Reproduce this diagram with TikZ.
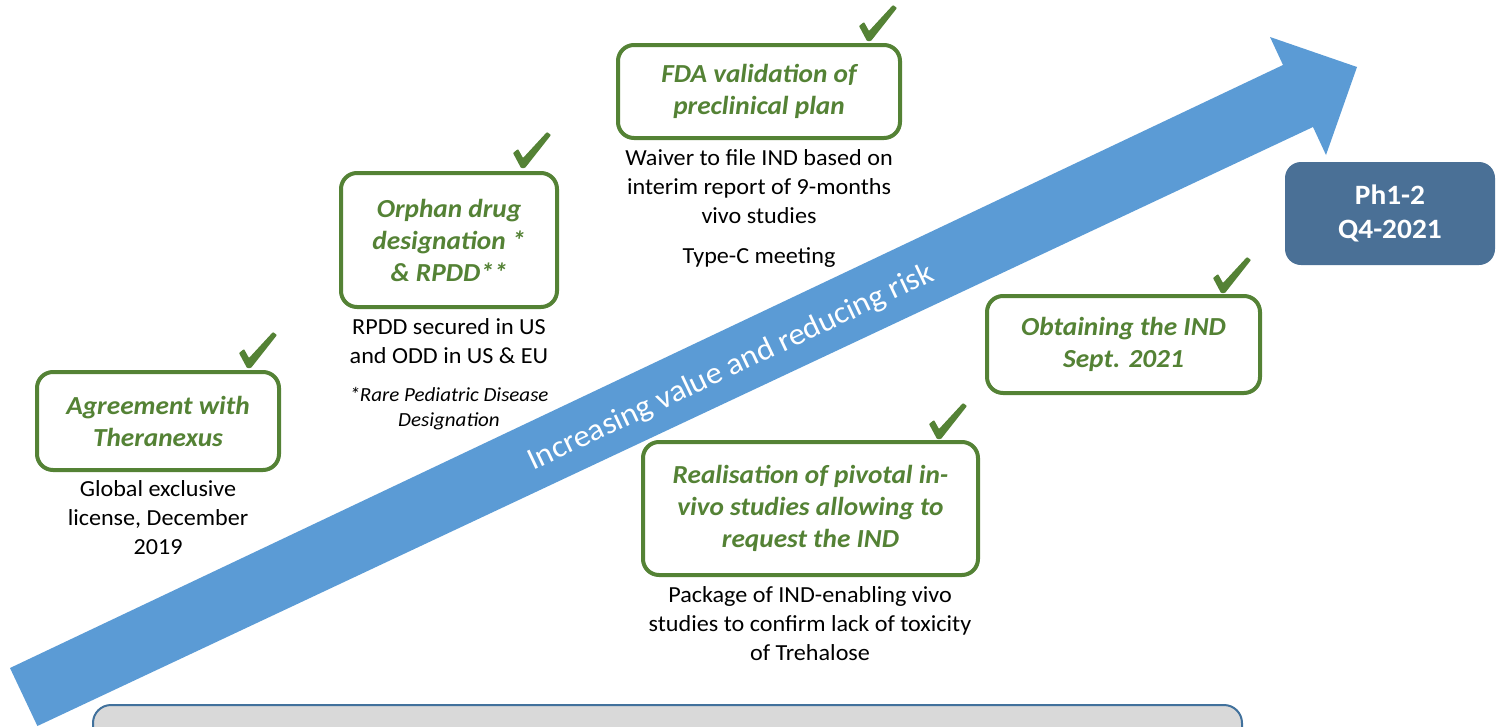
\documentclass[tikz,border=0pt]{standalone}
\usepackage{fontspec}
\setmainfont{Carlito}[FakeStretch=1.05]
\definecolor{grn}{HTML}{548235}
\definecolor{arrowblue}{HTML}{5B9BD5}
\definecolor{phblue}{HTML}{4A7096}
\definecolor{boxgray}{HTML}{D9D9D9}
\definecolor{boxedge}{HTML}{41719C}
\tikzset{
  milestone/.style={draw=grn, line width=4pt, rounded corners=16pt, fill=white,
    text=grn, align=center, inner sep=0pt,
    font=\fontsize{26}{32}\selectfont\bfseries\itshape},
  desc/.style={align=center, inner sep=0pt, text=black,
    font=\fontsize{23}{29}\selectfont},
  footnote/.style={align=center, inner sep=0pt, text=black,
    font=\fontsize{20}{25}\selectfont\itshape},
  tickmark/.style={fill=grn, rounded corners=0.8pt},
  phase/.style={fill=phblue, rounded corners=16pt, text=white, align=center,
    inner sep=0pt, font=\fontsize{28}{34}\selectfont\bfseries},
}
\newcommand{\drawtick}[1]{\fill[tickmark, shift={(#1)}] (-1,1) -- (-9,-14) -- (-4,-18) -- (1,-9) -- (25,-35) -- (29,-32) -- (3,1) -- cycle;}
\begin{document}
\begin{tikzpicture}[x=1pt, y=-1pt]
\useasboundingbox (0,0) rectangle (1497,726);
% big arrow
\fill[arrowblue] (10,668) -- (1283,65) -- (1270,37) -- (1357,67) -- (1326,155) -- (1313,127) -- (37.4,726) -- cycle;
\node[text=white, rotate=25.35, inner sep=0pt, font=\fontsize{31}{31}\selectfont] (risk) at (731,368) {Increasing value and reducing risk};
% bottom box
\draw[fill=boxgray, draw=boxedge, line width=2pt, rounded corners=18pt] (93,760) -- (93,705) -- (1242,705) -- (1242,760);
% milestones
\node[milestone, minimum width=242pt, minimum height=98pt] (b1) at (158,421) {Agreement with\\Theranexus};
\node[milestone, minimum width=216pt, minimum height=134pt] (b2) at (449,240) {Orphan drug\\designation *\\\& RPDD**};
\node[milestone, minimum width=282pt, minimum height=93pt] (b3) at (759,91.5) {FDA validation of\\preclinical plan};
\node[milestone, minimum width=273pt, minimum height=97pt] (b4) at (1123.5,344.5) {Obtaining the IND\\Sept. 2021};
\node[milestone, minimum width=335pt, minimum height=133pt] (b5) at (810.5,508.5) {Realisation of pivotal in-\\vivo studies allowing to\\request the IND};
\node[phase, minimum width=210pt, minimum height=103pt] (ph) at (1390,213.5) {Ph1-2\\Q4-2021};
% ticks
\coordinate (t1) at (248,367);
\coordinate (t2) at (522,167);
\coordinate (t3) at (868,40);
\coordinate (t4) at (1222,292);
\coordinate (t5) at (938,438);
\drawtick{t1}
\drawtick{t2}
\drawtick{t3}
\drawtick{t4}
\drawtick{t5}
% descriptions
\node[desc] (d1) at (158,518) {Global exclusive\\license, December\\2019};
\node[desc] (d2) at (449,341.5) {RPDD secured in US\\and ODD in US \& EU};
\node[footnote] (f2) at (449,408.5) {*Rare Pediatric Disease\\Designation};
\node[desc] (d3) at (759,186.5) {Waiver to file IND based on\\interim report of 9-months\\vivo studies};
\node[desc] (d3b) at (759,258) {Type-C meeting};
\node[desc] (d5) at (810,624) {Package of IND-enabling vivo\\studies to confirm lack of toxicity\\of Trehalose};
\end{tikzpicture}
\end{document}
